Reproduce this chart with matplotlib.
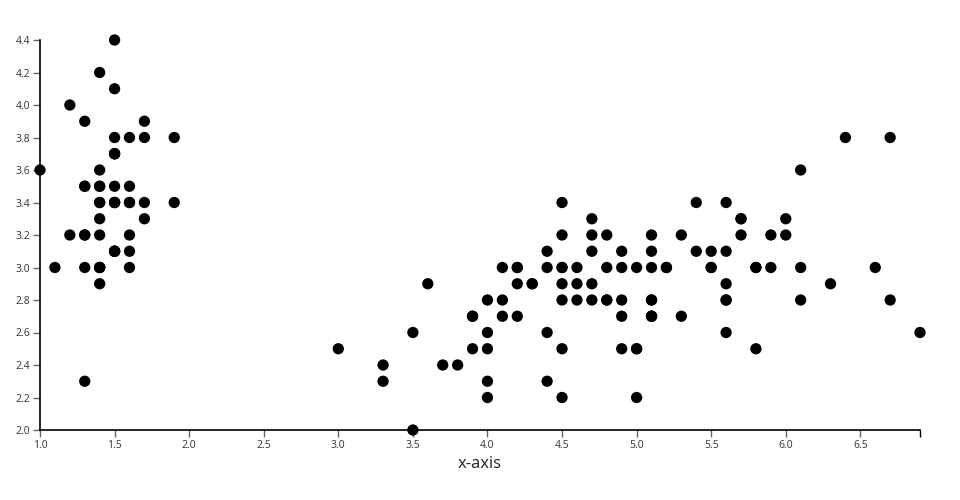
import matplotlib.pyplot as plt

# iris: petal length (x) vs sepal width (y)
petal_length = [
    1.4, 1.4, 1.3, 1.5, 1.4, 1.7, 1.4, 1.5, 1.4, 1.5, 1.5, 1.6, 1.4, 1.1, 1.2, 1.5, 1.3, 1.4, 1.7, 1.5,
    1.7, 1.5, 1.0, 1.7, 1.9, 1.6, 1.6, 1.5, 1.4, 1.6, 1.6, 1.5, 1.5, 1.4, 1.5, 1.2, 1.3, 1.5, 1.3, 1.5,
    1.3, 1.3, 1.3, 1.6, 1.9, 1.4, 1.6, 1.4, 1.5, 1.4,
    4.7, 4.5, 4.9, 4.0, 4.6, 4.5, 4.7, 3.3, 4.6, 3.9, 3.5, 4.2, 4.0, 4.7, 3.6, 4.4, 4.5, 4.1, 4.5, 3.9,
    4.8, 4.0, 4.9, 4.7, 4.3, 4.4, 4.8, 5.0, 4.5, 3.5, 3.8, 3.7, 3.9, 5.1, 4.5, 4.5, 4.7, 4.4, 4.1, 4.0,
    4.4, 4.6, 4.0, 3.3, 4.2, 4.2, 4.2, 4.3, 3.0, 4.1,
    6.0, 5.1, 5.9, 5.6, 5.8, 6.6, 4.5, 6.3, 5.8, 6.1, 5.1, 5.3, 5.5, 5.0, 5.1, 5.3, 5.5, 6.7, 6.9, 5.0,
    5.7, 4.9, 6.7, 4.9, 5.7, 6.0, 4.8, 4.9, 5.6, 5.8, 6.1, 6.4, 5.6, 5.1, 5.6, 6.1, 5.6, 5.5, 4.8, 5.4,
    5.6, 5.1, 5.1, 5.9, 5.7, 5.2, 5.0, 5.2, 5.4, 5.1,
]
sepal_width = [
    3.5, 3.0, 3.2, 3.1, 3.6, 3.9, 3.4, 3.4, 2.9, 3.1, 3.7, 3.4, 3.0, 3.0, 4.0, 4.4, 3.9, 3.5, 3.8, 3.8,
    3.4, 3.7, 3.6, 3.3, 3.4, 3.0, 3.4, 3.5, 3.4, 3.2, 3.1, 3.4, 4.1, 4.2, 3.1, 3.2, 3.5, 3.1, 3.0, 3.4,
    3.5, 2.3, 3.2, 3.5, 3.8, 3.0, 3.8, 3.2, 3.7, 3.3,
    3.2, 3.2, 3.1, 2.3, 2.8, 2.8, 3.3, 2.4, 2.9, 2.7, 2.0, 3.0, 2.2, 2.9, 2.9, 3.1, 3.0, 2.7, 2.2, 2.5,
    3.2, 2.8, 2.5, 2.8, 2.9, 3.0, 2.8, 3.0, 2.9, 2.6, 2.4, 2.4, 2.7, 2.7, 3.0, 3.4, 3.1, 2.3, 3.0, 2.5,
    2.6, 3.0, 2.6, 2.3, 2.7, 3.0, 2.9, 2.9, 2.5, 2.8,
    3.3, 2.7, 3.0, 2.9, 3.0, 3.0, 2.5, 2.9, 2.5, 3.6, 3.2, 2.7, 3.0, 2.5, 2.8, 3.2, 3.0, 3.8, 2.6, 2.2,
    3.2, 2.8, 2.8, 2.7, 3.3, 3.2, 2.8, 3.0, 2.8, 3.0, 2.8, 3.8, 2.8, 2.8, 2.6, 3.0, 3.4, 3.1, 3.0, 3.1,
    3.1, 3.1, 2.7, 3.2, 3.3, 3.0, 2.5, 3.0, 3.4, 3.0,
]

x_ticks = [1.0, 1.5, 2.0, 2.5, 3.0, 3.5, 4.0, 4.5, 5.0, 5.5, 6.0, 6.5]
y_ticks = [2.0, 2.2, 2.4, 2.6, 2.8, 3.0, 3.2, 3.4, 3.6, 3.8, 4.0, 4.2, 4.4]

plt.rcParams["font.family"] = ["Open Sans", "DejaVu Sans"]

fig = plt.figure(figsize=(9.6, 5.0), dpi=100)
ax = fig.add_axes([40 / 960, 1 - 430 / 500, 880 / 960, 390 / 500])

ax.scatter(petal_length, sepal_width, s=66, color="black", edgecolors="none",
           clip_on=False, zorder=3)

ax.set_xlim(min(petal_length), max(petal_length))
ax.set_ylim(min(sepal_width), max(sepal_width))
ax.set_xticks(x_ticks)
ax.set_yticks(y_ticks)
ax.set_xticklabels([f"{v:.1f}" for v in x_ticks])
ax.set_yticklabels([f"{v:.1f}" for v in y_ticks])
ax.set_xticks([max(petal_length)], minor=True)
ax.tick_params(axis="both", which="major", labelsize=7.5, length=5, width=1,
               color="#666666", labelcolor="#333333", pad=2)
ax.tick_params(axis="x", which="minor", length=5, width=1, color="black")

for side in ["top", "right"]:
    ax.spines[side].set_visible(False)
for side in ["left", "bottom"]:
    ax.spines[side].set_linewidth(1.2)
    ax.spines[side].set_color("black")

ax.set_xlabel("x-axis", fontsize=12, color="#222222", labelpad=4)

fig.savefig("out.png", dpi=100)
